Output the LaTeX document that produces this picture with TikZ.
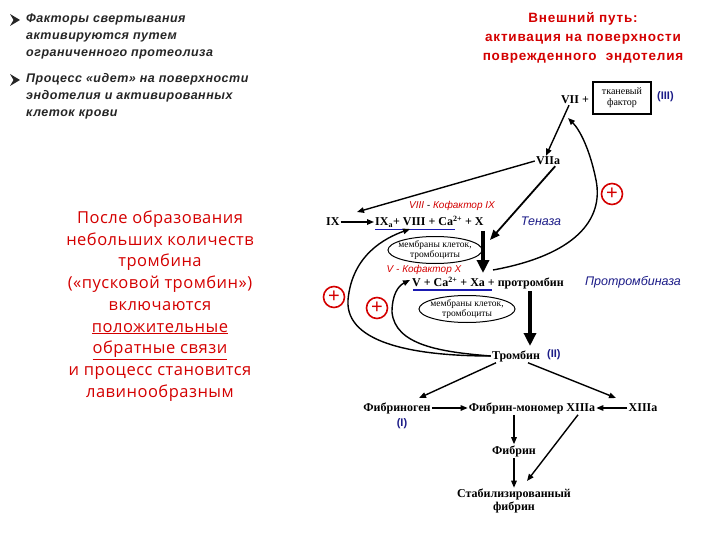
\documentclass[tikz,border=0pt]{standalone}
\usepackage{fontspec}
\setmainfont{Liberation Serif}
\newfontfamily\arialf{Liberation Sans}
\newfontfamily\arialsp[LetterSpace=4]{Liberation Sans}
\newfontfamily\titlef[LetterSpace=6]{Liberation Sans}
\newfontfamily\comicf[LetterSpace=3]{Open Sans}
\usetikzlibrary{arrows.meta,shapes.geometric}
\definecolor{dred}{HTML}{C80000}
\definecolor{tred}{HTML}{D40000}
\definecolor{dblue}{HTML}{1C1C88}
\definecolor{ublue}{HTML}{1A1AB0}
\definecolor{bul}{HTML}{E0602A}
\begin{document}
\begin{tikzpicture}[x=1pt,y=-1pt,
  lbl/.style={font=\fontsize{12}{13}\selectfont\bfseries, inner sep=1pt},
  bul/.style={font=\arialsp\fontsize{12.5}{17}\selectfont\bfseries\itshape, color=black!85, align=left, anchor=north west, inner sep=0pt},
  membt/.style={font=\fontsize{9.5}{10.5}\selectfont, align=center, inner sep=0pt},
  ar/.style={-{Triangle[length=7pt,width=5.5pt]}, line width=1.4pt},
  arb/.style={-{Triangle[length=10pt,width=8pt]}, line width=1.8pt},
  thick arr/.style={-{Triangle[length=13pt,width=12pt]}, line width=3.5pt},
  plus/.style={draw=tred, circle, line width=1.6pt, minimum size=21pt, inner sep=0pt, text=tred, font=\arialf\fontsize{20}{20}\selectfont},
  cof/.style={font=\arialf\itshape\fontsize{10}{11}\selectfont, inner sep=1pt},
  enz/.style={font=\arialf\itshape\fontsize{12.5}{13}\selectfont, text=dblue, inner sep=1pt},
  rn/.style={font=\arialf\bfseries\fontsize{11}{12}\selectfont, text=dblue, inner sep=1pt}
]
\useasboundingbox[fill=white] (0,0) rectangle (720,540);

% bullets
\fill[bul] (10,14) -- (20,20) -- (10,26) -- (13.5,20) -- cycle;
\node[bul] (b1) at (26,13.5) {Факторы свертывания\\активируются путем\\ограниченного протеолиза};
\fill[bul] (10,74) -- (20,80) -- (10,86) -- (13.5,80) -- cycle;
\node[bul] (b2) at (26,73.5) {Процесс «идет» на поверхности\\эндотелия и активированных\\клеток крови};

% title
\node[font=\titlef\bfseries\fontsize{13.5}{19}\selectfont, text=tred, align=center] (title) at (583,38) {Внешний путь:\\активация на поверхности\\поврежденного\ \ эндотелия};

% left red text
\node[font=\comicf\fontsize{16.5}{21.7}\selectfont, text=tred, align=center] (left) at (160,306)
{После образования\\небольших количеств\\тромбина\\(«пусковой тромбин»)\\включаются\\\underline{положительные}\\\underline{обратные связи}\\и процесс становится\\лавинообразным};

% top
\node[lbl] (vii) at (575,100) {VII +};
\node[draw, line width=1.3pt, font=\fontsize{10}{11}\selectfont, align=center, minimum width=58pt, minimum height=32pt, inner sep=1pt] (tf) at (622,98) {тканевый\\фактор};
\node[rn, anchor=west] (iii) at (656,97) {(III)};
\node[lbl] (viia) at (548,161) {VIIa};

% IX row
\node[lbl, anchor=west] (ix) at (325,222) {IX};
\node[lbl, anchor=west] (ixa) at (374,222) {IX\textsubscript{a}+ VIII + Ca\textsuperscript{2+} + X};
\draw[ublue, line width=1.3pt] (375,229.5) -- (455,229.5);
\node[cof] (cof1) at (452,206) {\textcolor{dred}{VIII} - \textcolor{tred}{Кофактор IX}};
\node[enz] (ten) at (541,221) {Теназа};
\node[membt] (m1) at (435,250) {мембраны клеток,\\тромбоциты};
\draw[line width=1pt] (m1.center) ellipse [x radius=47, y radius=13.5];

% V row
\node[cof] (cof2) at (424,270) {\textcolor{tred}{V - Кофактор X}};
\node[lbl, anchor=west] (v) at (411,283) {V + Ca\textsuperscript{2+} + Xa + протромбин};
\draw[ublue, line width=1.3pt] (413,290) -- (492,290);
\node[enz] (ptb) at (633,282) {Протромбиназа};
\node[membt] (m2) at (467,309) {мембраны клеток,\\тромбоциты};
\draw[line width=1pt] (m2.center) ellipse [x radius=48, y radius=13.5];

% thrombin
\node[lbl] (thr) at (516,356) {Тромбин};
\node[rn, anchor=west] (ii) at (546,355) {(II)};

% fibrin
\node[lbl] (fbg) at (397,408) {Фибриноген};
\node[rn] (i) at (402,424) {(I)};
\node[lbl] (fm) at (532,408) {Фибрин-мономер XIIIa};
\node[lbl] (xiii) at (643,408) {XIIIa};
\node[lbl] (fb) at (514,451) {Фибрин};
\node[lbl, align=center, font=\fontsize{12}{13}\selectfont\bfseries] (sf) at (514,501) {Стабилизированный\\фибрин};

% plus signs
\node[plus] (p1) at (612,194) {+};
\node[plus] (p2) at (334,297) {+};
\node[plus] (p3) at (377,308) {+};

% coordinates
\coordinate (t1) at (490,240);
\coordinate (thA) at (483,231);
\coordinate (thB) at (483,273);
\coordinate (thC) at (530,291);
\coordinate (thD) at (530,346);

% arrows
\draw[ar] ([xshift=-6pt]vii.south) -- ([xshift=-2pt]viia.north);
\draw[ar] (viia.west) -- (357,212);
\draw[arb] ([xshift=-6pt]viia.south east) -- (t1);
\draw[ar] (ix.east) -- (ixa.west);
\draw[thick arr] (thA) -- (thB);
\draw[thick arr] (thC) -- (thD);
% feedback from Xa to VII
\draw[ar] (493,270) .. controls (575,255) and (604,220) .. (596,180) .. controls (590,150) and (580,130) .. (568,118);
% feedback from thrombin
\draw[ar] (thr.west) .. controls (420,356) and (345,345) .. (348,300) .. controls (352,255) and (385,238) .. (410,229);
\draw[ar] (thr.west) .. controls (440,352) and (395,345) .. (392,312) .. controls (392,295) and (398,286) .. (410,280);

% lower
\draw[ar] ([xshift=-20pt]thr.south) -- (419,398);
\draw[ar] ([xshift=12pt]thr.south) -- (616,398);
\draw[ar] (fbg.east) -- (fm.west);
\draw[ar] (xiii.west) -- (fm.east);
\draw[ar] ([xshift=-18pt]fm.south) -- (fb.north);
\draw[ar] (fb.south) -- (sf.north);
\draw[ar] ([xshift=46pt]fm.south) -- (527,481);
\end{tikzpicture}
\end{document}
